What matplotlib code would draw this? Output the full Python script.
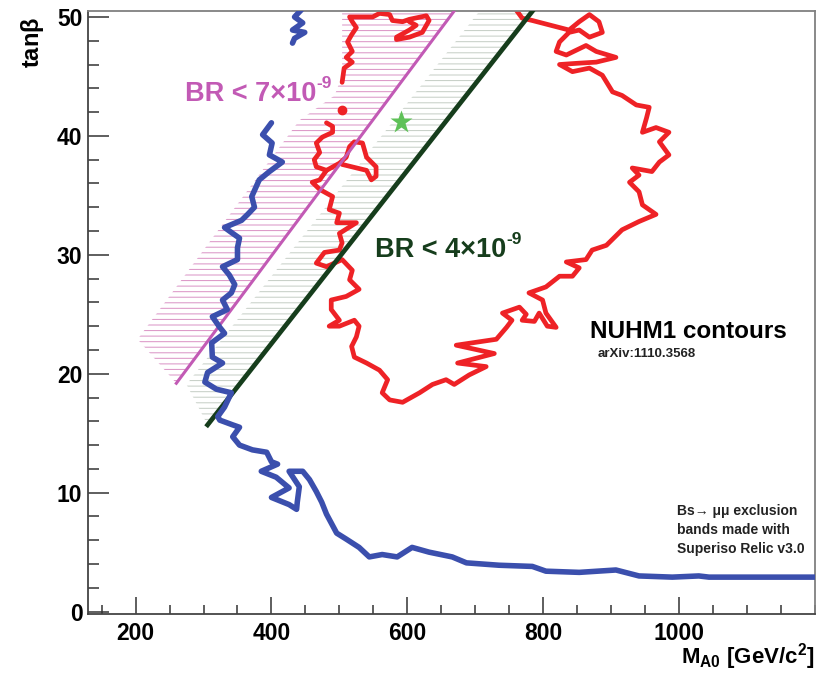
import matplotlib
matplotlib.use("Agg")
import matplotlib.pyplot as plt
from matplotlib.patches import Polygon
from matplotlib.ticker import MultipleLocator
import numpy as np

# ---------------- data (M_A0 [GeV], tan beta) ----------------
blue_low_m = [400, 387, 401, 397, 416, 397, 382, 371, 375, 365, 356, 331, 343, 353, 350, 350, 328, 338, 346, 341,
              328, 335, 313, 324, 331, 312, 313, 328, 306, 302, 319, 341, 331, 321, 324, 343, 353, 343, 353, 372,
              393, 400, 409, 385, 407, 426, 400, 426, 437, 438, 441, 426, 446, 456, 466, 474, 481, 496, 510, 529,
              544, 563, 585, 607, 632, 666, 687, 735, 784, 804, 853, 907, 941, 990, 1029, 1044, 1200]
blue_low_tb = [41.1, 40.1, 39.4, 38.4, 37.8, 37.0, 36.3, 34.9, 34.0, 33.4, 32.9, 32.3, 31.8, 31.4, 30.6, 29.6, 29.0,
               28.3, 27.5, 26.8, 26.2, 25.4, 24.8, 23.9, 23.4, 22.6, 21.4, 20.9, 20.1, 19.3, 18.7, 18.4, 17.2, 16.4,
               16.1, 15.7, 15.5, 14.7, 14.0, 13.6, 13.4, 12.6, 12.4, 11.8, 11.3, 10.4, 9.6, 9.0, 8.6, 9.2, 10.5,
               11.8, 11.8, 11.1, 10.1, 9.2, 8.2, 6.6, 6.1, 5.4, 4.6, 4.8, 4.6, 5.4, 5.0, 4.6, 4.1, 3.9, 3.8, 3.4,
               3.3, 3.5, 3.0, 2.9, 3.0, 2.9, 2.9]

blue_top_m = [444, 434, 446, 431, 449, 434, 431]
blue_top_tb = [50.6, 50.0, 49.5, 48.9, 48.7, 48.2, 47.8]

red_main_m = [481, 490, 490, 475, 466, 471, 463, 466, 481, 471, 460, 471, 490, 485, 500, 496, 525, 500, 504, 500,
              478, 466, 481, 504, 519, 515, 529, 510, 488, 488, 500, 485, 500, 522, 529, 525, 518, 522, 540, 559,
              571, 563, 574, 593, 618, 637, 657, 669, 691, 716, 674, 728, 672, 731, 746, 754, 740, 765, 775, 769,
              787, 794, 806, 819, 804, 799, 779, 804, 824, 843, 853, 834, 863, 872, 893, 916, 941, 966, 946, 941,
              927, 941, 931, 960, 971, 985, 971, 985, 966, 946, 952, 956, 937, 916, 902, 887, 868, 843, 824, 849,
              878, 907, 878, 863, 834, 819, 824, 838, 853, 868, 887, 882, 868, 853, 838, 784, 769, 760]
red_main_tb = [41.1, 40.8, 40.3, 39.9, 39.4, 38.6, 38.0, 37.4, 37.1, 36.3, 36.1, 35.5, 34.9, 33.8, 33.5, 32.7, 32.7,
               31.8, 31.0, 30.4, 30.2, 29.3, 29.0, 29.6, 28.7, 27.9, 27.1, 26.5, 26.2, 25.4, 24.5, 24.0, 24.0, 24.5,
               24.0, 23.1, 22.3, 21.4, 20.9, 20.3, 19.5, 18.4, 17.8, 17.6, 18.4, 19.1, 19.5, 19.1, 19.9, 20.6, 20.9,
               21.7, 22.4, 22.9, 23.9, 24.5, 25.1, 25.6, 25.0, 24.5, 24.4, 25.1, 24.0, 23.9, 25.1, 26.2, 26.8, 27.3,
               28.2, 28.2, 28.9, 29.4, 29.6, 30.4, 30.8, 32.1, 32.8, 33.4, 34.2, 35.3, 36.1, 36.7, 37.3, 37.0, 37.8,
               38.4, 39.5, 40.3, 40.7, 40.3, 41.5, 42.4, 42.6, 43.4, 43.7, 45.1, 45.7, 45.4, 46.0, 46.1, 46.2, 46.6,
               47.1, 47.6, 46.8, 47.1, 47.9, 48.7, 48.9, 48.3, 48.7, 49.6, 50.2, 49.6, 48.9, 49.7, 49.9, 50.6]

red_top_m = [504, 507, 519, 510, 519, 512, 518, 525, 519, 515, 534, 549, 559, 574, 578, 593, 603, 628, 632, 622,
             603, 584, 584, 603, 613, 603]
red_top_tb = [44.5, 45.7, 46.2, 46.6, 47.1, 47.9, 48.5, 49.1, 49.6, 50.0, 50.0, 50.0, 50.3, 50.2, 49.7, 49.6, 49.8,
              50.1, 49.7, 48.7, 48.3, 48.1, 48.3, 48.9, 49.3, 49.6]

red_spur_m = [481, 500, 510, 515, 522, 534, 540, 554, 554, 547, 540, 504]
red_spur_tb = [37.1, 37.7, 38.2, 39.1, 39.5, 39.4, 38.2, 37.4, 36.6, 36.3, 37.1, 37.6]

red_dot_m = [504]
red_dot_tb = [42.2]

br7_line_m = [260, 682]
br7_line_tb = [19.2, 51.5]
br4_line_m = [306, 798]
br4_line_tb = [15.7, 51.5]

br7_band_m = [260, 203, 441, 493, 504, 504, 682]
br7_band_tb = [19.2, 22.9, 41.3, 43.4, 45.1, 51.5, 51.5]
br4_band_m = [306, 275, 720, 798]
br4_band_tb = [15.7, 19.1, 51.5, 51.5]

star_m = [590]
star_tb = [41.2]

xticks = [200, 400, 600, 800, 1000]
yticks = [0, 10, 20, 30, 40, 50]

# ---------------- style ----------------
plt.rcParams['font.family'] = ['Liberation Sans', 'DejaVu Sans']
plt.rcParams['mathtext.fontset'] = 'custom'
plt.rcParams['mathtext.rm'] = 'Liberation Sans'
plt.rcParams['mathtext.bf'] = 'Liberation Sans:bold'
plt.rcParams['hatch.linewidth'] = 0.75

W, H = 825, 681
fig = plt.figure(figsize=(W / 100, H / 100), dpi=100)
ax = fig.add_axes([88 / W, 1 - 614 / H, (815 - 88) / W, (614 - 11) / H])
ax.set_xlim(130, 1200)
ax.set_ylim(-0.2, 50.5)

pink = '#c25ab5'
dgreen = '#163d1c'

ax.add_patch(Polygon(np.column_stack([br7_band_m, br7_band_tb]), closed=True, fill=False,
                     hatch='---', edgecolor='#dc98c8', lw=0, zorder=1))
ax.add_patch(Polygon(np.column_stack([br4_band_m, br4_band_tb]), closed=True, fill=False,
                     hatch='---', edgecolor='#c8d0c8', lw=0, zorder=1))

red = '#ee2226'
kw = dict(color=red, lw=3.4, solid_joinstyle='round', solid_capstyle='round', zorder=2)
ax.plot(red_main_m, red_main_tb, **kw)
ax.plot(red_top_m, red_top_tb, **kw)
ax.plot(red_spur_m, red_spur_tb, **kw)
ax.plot(red_dot_m, red_dot_tb, 'o', color=red, ms=6, zorder=2)

ax.plot(br7_line_m, br7_line_tb, color=pink, lw=2.2, zorder=3)
ax.plot(br4_line_m, br4_line_tb, color=dgreen, lw=3.4, zorder=3)

blue = '#3b4fad'
kwb = dict(color=blue, lw=4.0, solid_joinstyle='round', solid_capstyle='round', zorder=4)
ax.plot(blue_low_m, blue_low_tb, **kwb)
ax.plot(blue_top_m, blue_top_tb, **kwb)

ax.plot(star_m, star_tb, '*', color='#5fc158', ms=17, mec='none', zorder=5)

# axes / ticks
ax.set_xticks(xticks)
ax.set_yticks(yticks)
ax.xaxis.set_minor_locator(MultipleLocator(50))
ax.yaxis.set_minor_locator(MultipleLocator(2))
ax.tick_params(which='both', direction='in', top=False, right=False, color='#333333', width=1.1)
ax.tick_params(which='major', axis='y', length=15)
ax.tick_params(which='minor', axis='y', length=8)
ax.tick_params(which='major', axis='x', length=12)
ax.tick_params(which='minor', axis='x', length=6.5)
ax.tick_params(axis='y', pad=4)
ax.tick_params(axis='x', pad=6)
for lab in ax.get_xticklabels() + ax.get_yticklabels():
    lab.set_fontsize(16.5)
    lab.set_fontweight('bold')
for s in ['left', 'bottom']:
    ax.spines[s].set_color('#444444')
    ax.spines[s].set_linewidth(1.3)
for s in ['top', 'right']:
    ax.spines[s].set_color('#808080')
    ax.spines[s].set_linewidth(1.3)


def ftext(x, y, s, **k):
    return fig.text(x / W, 1 - y / H, s, **k)


ftext(33, 42, r'tan$\mathbf{\beta}$', rotation=90, ha='center', va='center', fontsize=17,
      fontweight='bold')
ftext(815, 663, r'M$_{\mathbf{A0}}$ [GeV/c$^{\mathbf{2}}$]', ha='right', va='baseline', fontsize=16,
      fontweight='bold')

t1 = ftext(185, 101, 'BR < 7×10', ha='left', va='baseline', fontsize=19.5,
           fontweight='bold', color=pink)
ax.annotate('-9', xy=(1.0, 0.62), xycoords=t1, ha='left', va='bottom', fontsize=12.5,
            fontweight='bold', color=pink, annotation_clip=False)
t2 = ftext(375, 257, 'BR < 4×10', ha='left', va='baseline', fontsize=19.5,
           fontweight='bold', color=dgreen)
ax.annotate('-9', xy=(1.0, 0.62), xycoords=t2, ha='left', va='bottom', fontsize=12.5,
            fontweight='bold', color=dgreen, annotation_clip=False)

ftext(590, 338, 'NUHM1 contours', ha='left', va='baseline', fontsize=17.5, fontweight='bold', color='black')
ftext(598, 357, 'arXiv:1110.3568', ha='left', va='baseline', fontsize=9.5, fontweight='bold', color='#222222')
note = ['Bs\u2192 \u03bc\u03bc exclusion', 'bands made with', 'Superiso Relic v3.0']
for i, line in enumerate(note):
    ftext(677, 515 + 19 * i, line, ha='left', va='baseline', fontsize=10, fontweight='bold',
          color='#222222', family=['Liberation Sans', 'DejaVu Sans'])

fig.savefig('out.png', dpi=100)
